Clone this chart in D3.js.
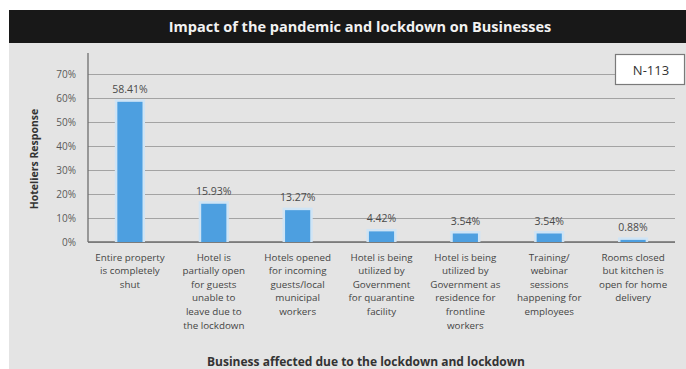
<!DOCTYPE html>
<html>
<head>
<meta charset="utf-8">
<script src="https://cdn.jsdelivr.net/npm/d3@7"></script>
<style>
  html, body { margin: 0; padding: 0; background: #ffffff; }
  svg { display: block; }
</style>
</head>
<body>
<svg id="chart" width="686" height="369"></svg>
<script>
// Share of hotels reporting each pandemic impact (N = 113)
const categories = [
  ["Entire property", "is completely", "shut"],
  ["Hotel is", "partially open", "for guests", "unable to", "leave due to", "the lockdown"],
  ["Hotels opened", "for incoming", "guests/local", "municipal", "workers"],
  ["Hotel is being", "utilized by", "Government", "for quarantine", "facility"],
  ["Hotel is being", "utilized by", "Government as", "residence for", "frontline", "workers"],
  ["Training/", "webinar", "sessions", "happening for", "employees"],
  ["Rooms closed", "but kitchen is", "open for home", "delivery"]
];
const values = [58.41, 15.93, 13.27, 4.42, 3.54, 3.54, 0.88];
const yTicks = [0, 10, 20, 30, 40, 50, 60, 70];

const titleText = "Impact of the pandemic and lockdown on Businesses";
const yTitle = "Hoteliers Response";
const xTitle = "Business affected due to the lockdown and lockdown";
const sampleNote = "N-113";

const svg = d3.select("#chart");
const W = 686, H = 369;
const FONT = "Open Sans, sans-serif";

// panel background and title band
svg.append("rect").attr("x", 9).attr("y", 10).attr("width", W - 9).attr("height", H - 10)
  .attr("fill", "#e4e4e4");
svg.append("rect").attr("x", 9).attr("y", 10).attr("width", W - 9).attr("height", 33)
  .attr("fill", "#181818");
svg.append("text").attr("x", 360).attr("y", 32)
  .attr("text-anchor", "middle")
  .attr("font-family", FONT).attr("font-weight", "bold")
  .attr("font-size", 14.5).attr("fill", "#f2f2f2")
  .text(titleText);

const plot = { left: 88, right: 675, top: 53, bottom: 242 };

const x = d3.scaleBand()
  .domain(d3.range(values.length))
  .range([plot.left, plot.right])
  .paddingInner(0.7).paddingOuter(0.35);

const y = d3.scaleLinear().domain([0, 70]).range([plot.bottom, 74]);

// gridlines + tick labels
const yAxis = d3.axisLeft(y).tickValues(yTicks)
  .tickSize(-(plot.right - plot.left))
  .tickFormat(d => d + "%");
const gy = svg.append("g").attr("transform", `translate(${plot.left},0)`).call(yAxis);
gy.select(".domain").remove();
gy.selectAll(".tick line").attr("stroke", "#a3a3a3").attr("stroke-width", 1);
gy.selectAll(".tick text")
  .attr("x", -12)
  .attr("font-family", FONT).attr("font-size", 10)
  .attr("fill", "#5a5a5a");

// vertical axis line and baseline
svg.append("line").attr("x1", plot.left).attr("x2", plot.left)
  .attr("y1", plot.top).attr("y2", plot.bottom)
  .attr("stroke", "#6e6e6e").attr("stroke-width", 1.3);
svg.append("line").attr("x1", plot.left).attr("x2", plot.right)
  .attr("y1", plot.bottom).attr("y2", plot.bottom)
  .attr("stroke", "#6e6e6e").attr("stroke-width", 1.5);

// bars with a pale glow behind them
const bars = svg.append("g");
bars.selectAll("rect.glow").data(values).join("rect")
  .attr("class", "glow")
  .attr("x", (d, i) => x(i) - 2.5)
  .attr("width", x.bandwidth() + 5)
  .attr("y", d => y(d) - 2.5)
  .attr("height", d => y(0) - y(d) + 2.5)
  .attr("fill", "#cfe4f5");
bars.selectAll("rect.bar").data(values).join("rect")
  .attr("class", "bar")
  .attr("x", (d, i) => x(i))
  .attr("width", x.bandwidth())
  .attr("y", d => y(d))
  .attr("height", d => y(0) - y(d))
  .attr("fill", "#4d9fe0");

// value labels
svg.append("g").selectAll("text").data(values).join("text")
  .attr("x", (d, i) => x(i) + x.bandwidth() / 2)
  .attr("y", d => y(d) - 9)
  .attr("text-anchor", "middle")
  .attr("font-family", FONT).attr("font-size", 10.5)
  .attr("fill", "#4a4a4a")
  .text(d => d.toFixed(2) + "%");

// category labels (wrapped)
const cats = svg.append("g").selectAll("text").data(categories).join("text")
  .attr("text-anchor", "middle")
  .attr("font-family", FONT).attr("font-size", 9.8)
  .attr("fill", "#444444");
cats.each(function (lines, i) {
  const t = d3.select(this);
  lines.forEach((ln, k) => {
    t.append("tspan")
      .attr("x", x(i) + x.bandwidth() / 2)
      .attr("y", 260.5 + k * 13.6)
      .text(ln);
  });
});

// axis titles
svg.append("text")
  .attr("transform", "translate(37.5,159) rotate(-90)")
  .attr("text-anchor", "middle")
  .attr("font-family", FONT).attr("font-weight", "bold")
  .attr("font-size", 10.5).attr("fill", "#333333")
  .text(yTitle);
svg.append("text").attr("x", 366).attr("y", 366)
  .attr("text-anchor", "middle")
  .attr("font-family", FONT).attr("font-weight", "bold")
  .attr("font-size", 12).attr("fill", "#333333")
  .text(xTitle);

// sample size box
svg.append("rect").attr("x", 615.5).attr("y", 54.5).attr("width", 69).attr("height", 30)
  .attr("fill", "#ffffff").attr("stroke", "#7a7a7a").attr("stroke-width", 1.2);
svg.append("text").attr("x", 651).attr("y", 74.5)
  .attr("text-anchor", "middle")
  .attr("font-family", FONT).attr("font-size", 13)
  .attr("fill", "#333333")
  .text(sampleNote);
</script>
</body>
</html>
